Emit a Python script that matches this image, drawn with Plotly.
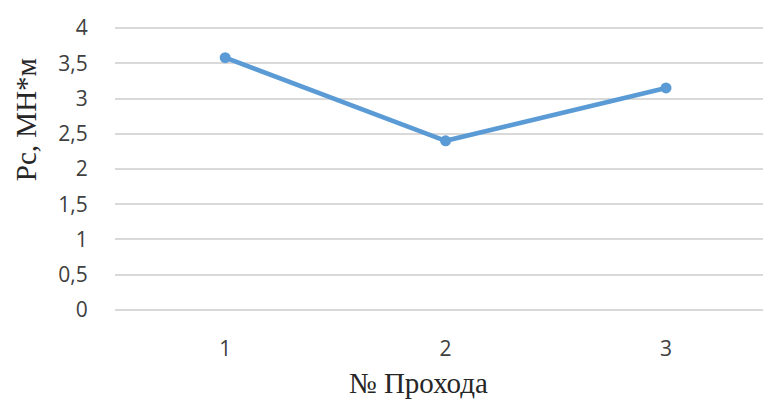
import plotly.graph_objects as go

# Passes and the moment measured on each one
passes = [1, 2, 3]
moment = [3.58, 2.40, 3.15]
y_ticks = [0, 0.5, 1, 1.5, 2, 2.5, 3, 3.5, 4]
y_tick_text = ["0", "0,5", "1", "1,5", "2", "2,5", "3", "3,5", "4"]

fig = go.Figure()
fig.add_trace(go.Scatter(
    x=passes, y=moment, mode="lines+markers",
    line=dict(color="#5b9bd5", width=4.5),
    marker=dict(color="#5b9bd5", size=11),
    showlegend=False,
))

fig.update_layout(
    width=763, height=403,
    margin=dict(l=115, r=0, t=21, b=86),
    paper_bgcolor="white", plot_bgcolor="white",
    font=dict(family="Open Sans, Liberation Sans, sans-serif", size=21, color="#404040"),
    xaxis=dict(
        range=[0.5, 3.44], tickvals=passes, ticktext=[str(p) for p in passes],
        showgrid=False, zeroline=False, showline=False,
        ticks="outside", ticklen=13, tickcolor="rgba(0,0,0,0)",
    ),
    yaxis=dict(
        range=[-0.1, 4.1], tickvals=y_ticks, ticktext=y_tick_text,
        showgrid=True, gridcolor="#d9d9d9", gridwidth=1.5,
        zeroline=False, showline=False,
        ticks="outside", ticklen=22, tickcolor="rgba(0,0,0,0)",
    ),
    annotations=[
        dict(text="№ Прохода", xref="paper", yref="paper", x=(418 - 115) / 648, y=-0.222,
             xanchor="center", yanchor="middle", showarrow=False,
             font=dict(family="Liberation Serif, Times New Roman, serif", size=29, color="#262626")),
        dict(text="Pc, МН*м", xref="paper", yref="paper", x=-(115 - 26) / 648, y=0.665,
             xanchor="center", yanchor="middle", showarrow=False, textangle=-90,
             font=dict(family="Liberation Serif, Times New Roman, serif", size=29, color="#262626")),
    ],
)

fig.write_html("out.html")
